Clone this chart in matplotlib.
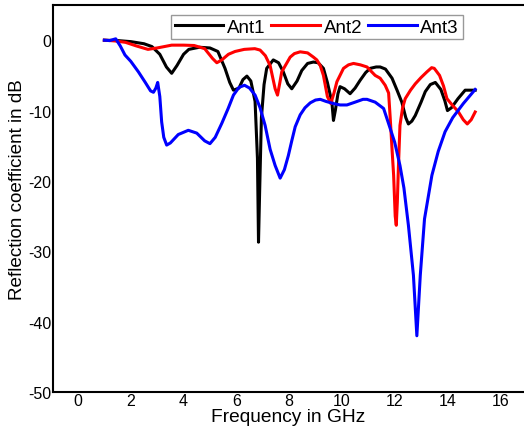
import numpy as np
import matplotlib.pyplot as plt

plt.rcParams['font.family'] = ['Liberation Sans', 'DejaVu Sans']
plt.rcParams['axes.unicode_minus'] = False

# Ant1 (black)
f1 = [1.0, 1.5, 2.0, 2.5, 2.8, 3.1, 3.35, 3.55, 3.75, 4.0, 4.2, 4.6, 5.0, 5.3, 5.57, 5.75, 5.89,
      6.1, 6.25, 6.4, 6.55, 6.71, 6.8, 6.84, 6.88, 6.95, 7.05, 7.15, 7.4, 7.6, 7.78, 7.95, 8.1,
      8.3, 8.48, 8.7, 8.92, 9.1, 9.3, 9.45, 9.62, 9.68, 9.75, 9.85, 9.93, 10.1, 10.31, 10.5,
      10.69, 10.9, 11.07, 11.3, 11.45, 11.65, 11.9, 12.1, 12.27, 12.42, 12.52, 12.65, 12.78,
      13.0, 13.16, 13.35, 13.54, 13.75, 13.9, 14.0, 14.15, 14.4, 14.67, 15.05]
s1 = [0.0, -0.05, -0.2, -0.5, -0.9, -2.0, -3.8, -4.7, -3.6, -2.0, -1.3, -1.0, -1.1, -1.6, -4.0,
      -6.0, -7.1, -6.8, -5.6, -5.1, -5.8, -8.7, -16.8, -28.7, -22.0, -11.0, -6.3, -4.0, -2.8,
      -3.2, -4.5, -6.2, -6.9, -5.8, -4.3, -3.3, -3.1, -3.2, -4.0, -6.0, -8.8, -11.4, -10.0, -7.6,
      -6.6, -6.9, -7.6, -6.8, -5.7, -4.6, -4.0, -3.8, -3.8, -4.1, -5.4, -7.2, -8.8, -11.0, -11.9,
      -11.5, -10.7, -8.8, -7.3, -6.3, -6.0, -7.0, -8.6, -10.0, -9.6, -8.3, -7.1, -7.1]

# Ant2 (red)
f2 = [1.0, 1.4, 1.8, 2.2, 2.65, 3.0, 3.55, 4.0, 4.4, 4.8, 5.1, 5.26, 5.45, 5.7, 5.95, 6.3, 6.7,
      6.9, 7.1, 7.28, 7.47, 7.56, 7.65, 7.72, 8.04, 8.2, 8.42, 8.7, 8.92, 9.05, 9.18, 9.3, 9.45,
      9.58, 9.7, 9.81, 10.06, 10.25, 10.44, 10.7, 10.95, 11.26, 11.45, 11.64, 11.77, 11.83, 11.9,
      11.96, 12.02, 12.06, 12.1, 12.14, 12.2, 12.3, 12.4, 12.6, 12.78, 13.0, 13.22, 13.4, 13.5,
      13.7, 13.85, 13.98, 14.2, 14.4, 14.6, 14.75, 14.9, 15.05]
s2 = [0.0, -0.1, -0.3, -0.8, -1.3, -1.1, -0.7, -0.7, -0.75, -1.2, -2.6, -3.2, -2.8, -2.0, -1.6,
      -1.3, -1.2, -1.4, -2.2, -3.6, -6.9, -7.8, -6.0, -4.5, -2.4, -1.9, -1.65, -1.8, -2.4, -2.8,
      -3.6, -5.0, -8.0, -9.0, -7.5, -5.9, -4.0, -3.5, -3.3, -3.5, -3.8, -5.0, -5.4, -6.4, -7.5,
      -11.0, -15.5, -19.2, -25.0, -26.3, -23.0, -18.2, -12.1, -9.6, -8.3, -7.1, -6.2, -5.3, -4.5,
      -3.9, -4.0, -5.0, -6.5, -8.3, -9.3, -10.1, -11.3, -11.9, -11.3, -10.2]

# Ant3 (blue)
f3 = [1.0, 1.2, 1.43, 1.6, 1.78, 2.0, 2.29, 2.55, 2.75, 2.86, 2.95, 3.02, 3.1, 3.17, 3.25, 3.36,
      3.5, 3.8, 4.18, 4.5, 4.8, 5.0, 5.2, 5.45, 5.69, 5.89, 6.1, 6.31, 6.5, 6.71, 6.9, 7.09, 7.28,
      7.47, 7.66, 7.82, 7.97, 8.1, 8.23, 8.42, 8.6, 8.8, 9.0, 9.18, 9.4, 9.68, 9.93, 10.19, 10.5,
      10.8, 10.95, 11.26, 11.58, 11.8, 12.0, 12.2, 12.35, 12.52, 12.71, 12.84, 12.97, 13.13,
      13.41, 13.65, 13.91, 14.2, 14.6, 15.05]
s3 = [0.0, -0.05, 0.2, -0.8, -2.1, -3.0, -4.5, -6.0, -7.2, -7.4, -6.8, -6.0, -8.0, -11.6, -13.8,
      -14.9, -14.6, -13.4, -12.8, -13.2, -14.3, -14.7, -13.8, -11.8, -9.7, -7.8, -6.7, -6.4, -6.8,
      -7.8, -9.6, -12.1, -15.5, -17.8, -19.6, -18.4, -16.4, -14.3, -12.3, -10.6, -9.6, -8.9, -8.5,
      -8.4, -8.7, -9.0, -9.2, -9.2, -8.8, -8.4, -8.4, -8.8, -9.7, -12.2, -14.5, -17.8, -21.0,
      -26.3, -33.4, -42.0, -33.4, -25.4, -19.2, -15.8, -13.0, -11.0, -9.0, -7.0]

fig = plt.figure(figsize=(5.24, 4.31), dpi=100)
ax = fig.add_axes([0.101, 0.088, 0.899, 0.898])

ax.plot(f1, s1, color='black', lw=2.2, label='Ant1')
ax.plot(f2, s2, color='red', lw=2.2, label='Ant2')
ax.plot(f3, s3, color='blue', lw=2.2, label='Ant3')

ax.set_xlim(-0.95, 16.9)
ax.set_ylim(-50, 5)
ax.set_xticks(np.arange(0, 17, 2))
ax.set_yticks(np.arange(-50, 1, 10))
ax.tick_params(length=0, labelsize=11.5, pad=1)
ax.spines['right'].set_visible(False)
for s in ['left', 'bottom', 'top']:
    ax.spines[s].set_linewidth(1.5)

ax.set_xlabel('Frequency in GHz', fontsize=13.8, labelpad=0)
ax.set_ylabel('Reflection coefficient in dB', fontsize=13.6)
ax.yaxis.set_label_coords(-0.057, 0.525)

leg = ax.legend(loc='upper center', bbox_to_anchor=(0.56, 0.975), ncol=3, fontsize=13.5,
                frameon=True, fancybox=False, handlelength=2.6, handletextpad=0.2,
                columnspacing=0.3, borderpad=0.2, borderaxespad=0)
leg.get_frame().set_edgecolor('gray')
leg.get_frame().set_linewidth(1.0)

fig.savefig('out.png', dpi=100)
